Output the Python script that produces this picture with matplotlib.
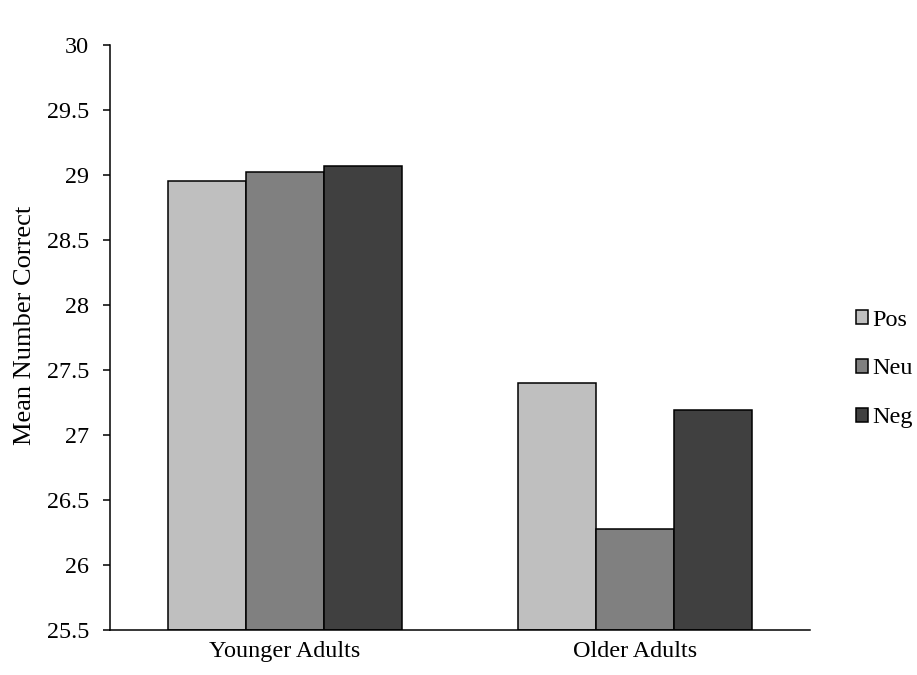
import numpy as np
import matplotlib.pyplot as plt

# data
groups = ['Younger Adults', 'Older Adults']
series = ['Pos', 'Neu', 'Neg']
pos_vals = [28.95, 27.40]
neu_vals = [29.02, 26.28]
neg_vals = [29.07, 27.19]
colors = ['#BFBFBF', '#808080', '#404040']
yticks = [25.5, 26, 26.5, 27, 27.5, 28, 28.5, 29, 29.5, 30]

plt.rcParams['font.family'] = ['Liberation Serif', 'DejaVu Serif']

fig = plt.figure(figsize=(9.17, 6.75), dpi=100)
ax = fig.add_axes([110 / 917, 1 - 630 / 675, 700 / 917, 585 / 675])

x = np.arange(len(groups))
w = 0.223
for i, (vals, c, lab) in enumerate(zip([pos_vals, neu_vals, neg_vals], colors, series)):
    ax.bar(x + (i - 1) * w, np.array(vals) - 25.5, w, bottom=25.5, color=c,
           edgecolor='black', linewidth=1.1, label=lab, zorder=2)

ax.set_xlim(-0.5, 1.5)
ax.set_ylim(25.5, 30)
ax.set_yticks(yticks)
ax.set_yticklabels([f'{t:g}' for t in yticks])
ax.set_xticks(x)
ax.set_xticklabels(groups)
ax.tick_params(axis='x', length=0, labelsize=17.4, pad=8)
ax.tick_params(axis='y', direction='out', length=5, width=1.1, labelsize=17.4, pad=10)

ax.spines['top'].set_visible(False)
ax.spines['right'].set_visible(False)
ax.spines['left'].set_linewidth(1.1)
ax.spines['bottom'].set_linewidth(1.1)

ax.set_ylabel('Mean Number Correct', fontsize=19)
ax.yaxis.set_label_coords(-0.105, 0.521)

fig.legend(loc='center left', bbox_to_anchor=(834 / 917, 1 - 369 / 675),
           frameon=False, fontsize=17.4, handlelength=0.5, handleheight=0.5,
           handletextpad=0.2, labelspacing=1.15)

fig.savefig('out.png', dpi=100)
